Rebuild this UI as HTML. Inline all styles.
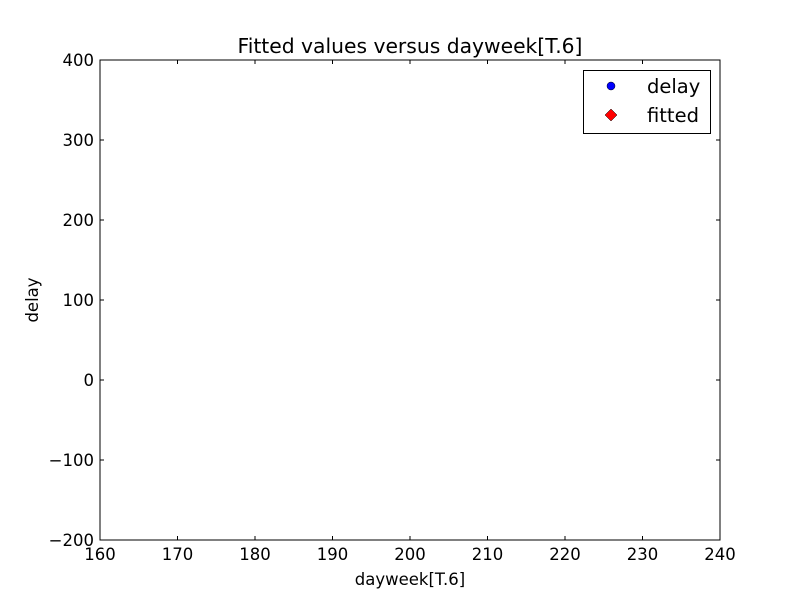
<!DOCTYPE html>
<html><head><meta charset="utf-8"><style>
html,body{margin:0;padding:0;background:#fff;}
svg{display:block;font-family:"DejaVu Sans","Liberation Sans",sans-serif;}
</style></head><body>
<svg id="chart" width="800" height="600" viewBox="0 0 800 600">
<rect width="800" height="600" fill="#fff"/>
<text x="410" y="53" text-anchor="middle" font-size="20.3">Fitted values versus dayweek[T.6]</text>
<g id="marks"></g>
<g id="axes"></g>
<rect x="100" y="60" width="620" height="480" fill="none" stroke="#000" stroke-width="1"/>
<text x="410" y="585" text-anchor="middle" font-size="16.5">dayweek[T.6]</text>
<text x="38" y="300" text-anchor="middle" font-size="16.5" transform="rotate(-90 38 300)">delay</text>
<g>
<rect x="583.5" y="70.5" width="127" height="63" fill="#fff" stroke="#000"/>
<circle cx="611" cy="86" r="4" fill="#0000ff" stroke="#000" stroke-width="0.5"/>
<text x="647" y="93" font-size="19.5">delay</text>
<polygon points="611,109 617,115 611,121 605,115" fill="#ff0000" stroke="#000" stroke-width="0.5"/>
<text x="647" y="122" font-size="19.5">fitted</text>
</g>
</svg>
<script>
const xTicks = [160,170,180,190,200,210,220,230,240];
const yTicks = [400,300,200,100,0,-100,-200];
const delayX = [];
const delayY = [];
const fittedX = [];
const fittedY = [];
const NS="http://www.w3.org/2000/svg";
const L=100,R=720,T=60,B=540;
function sx(v){return L+(v-160)/80*(R-L);}
function sy(v){return B-(v+200)/600*(B-T);}
const axes=document.getElementById('axes');
const marks=document.getElementById('marks');
function mk(tag,attrs,parent){const e=document.createElementNS(NS,tag);for(const k in attrs)e.setAttribute(k,attrs[k]);parent.appendChild(e);return e;}
xTicks.forEach(v=>{
  const x=sx(v);
  let t=mk('line',{x1:x,x2:x,y1:B,y2:B-4,stroke:'#000'},axes);
  
  
  t=mk('line',{x1:x,x2:x,y1:T,y2:T+4,stroke:'#000'},axes);
  
  
  const s=mk('text',{x:x,y:B+20,'text-anchor':'middle','font-size':16.5},axes);
  s.textContent=String(v);
  
  
});
yTicks.forEach(v=>{
  const y=sy(v);
  let t=mk('line',{x1:L,x2:L+4,y1:y,y2:y,stroke:'#000'},axes);
  
  
  t=mk('line',{x1:R,x2:R-4,y1:y,y2:y,stroke:'#000'},axes);
  
  
  const s=mk('text',{x:L-6,y:y+6,'text-anchor':'end','font-size':16.5},axes);
  s.textContent=(v<0?'\u2212'+Math.abs(v):String(v));
  
  
});
delayX.forEach((v,i)=>{
  const c=mk('circle',{cx:sx(v),cy:sy(delayY[i]),r:4,fill:'#0000ff',stroke:'#000','stroke-width':0.5},marks);
  
  
});
fittedX.forEach((v,i)=>{
  const x=sx(v),y=sy(fittedY[i]);
  const p=mk('polygon',{points:`${x},${y-6} ${x+5},${y} ${x},${y+6} ${x-5},${y}`,fill:'#ff0000',stroke:'#000','stroke-width':0.5},marks);
  
  
});
</script>
</body></html>
